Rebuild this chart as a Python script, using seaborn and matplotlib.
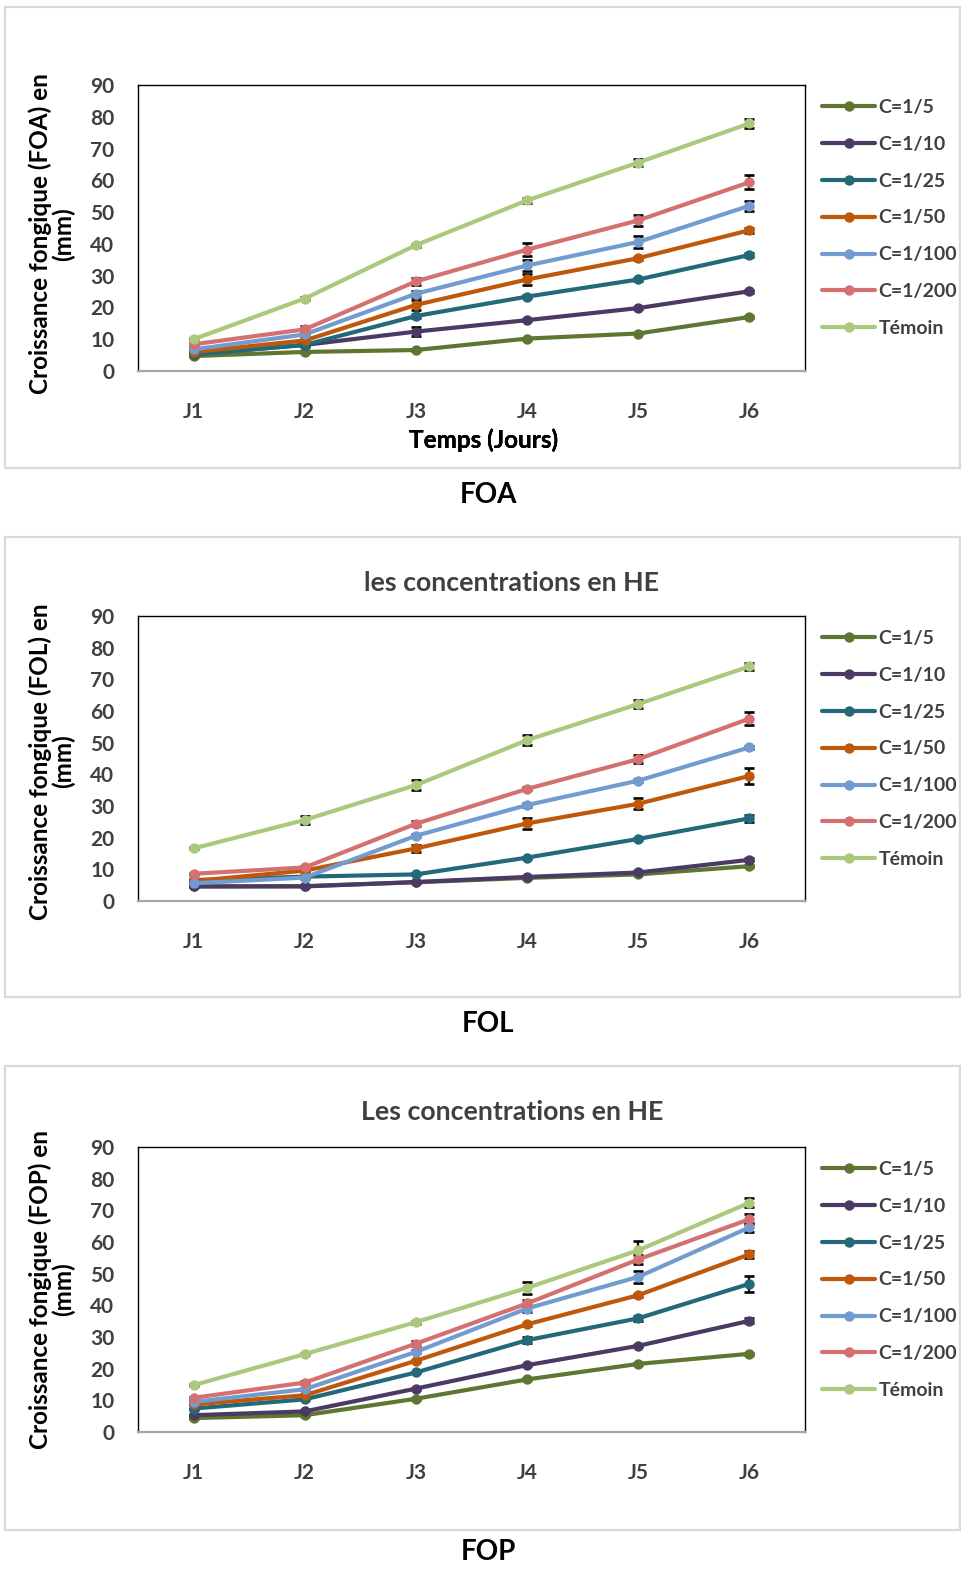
import matplotlib
matplotlib.use("Agg")
import matplotlib.pyplot as plt
from matplotlib.patches import Rectangle
import seaborn as sns
import pandas as pd

sns.set_style("white")
plt.rcParams['font.family'] = ['Lato', 'DejaVu Sans']
plt.rcParams['font.weight'] = 'bold'
plt.rcParams['axes.labelweight'] = 'bold'

# ---------------- data ----------------
days = ["J1", "J2", "J3", "J4", "J5", "J6"]
concs = ["C=1/5", "C=1/10", "C=1/25", "C=1/50", "C=1/100", "C=1/200", "Témoin"]
colors = ["#5f7632", "#4b3a63", "#23697a", "#c0580c", "#729bd0", "#d57070", "#aac97c"]

# FOA
foa_c5 = [4.7, 6.0, 6.6, 10.2, 11.8, 17.0]
foa_c10 = [5.3, 8.2, 12.4, 16.0, 19.8, 25.1]
foa_c25 = [5.2, 8.2, 17.3, 23.4, 28.8, 36.5]
foa_c50 = [6.0, 9.6, 20.8, 28.8, 35.5, 44.3]
foa_c100 = [6.8, 11.5, 24.3, 33.2, 40.6, 52.0]
foa_c200 = [8.4, 13.1, 28.2, 38.2, 47.4, 59.4]
foa_tem = [10.0, 22.8, 39.6, 53.7, 65.6, 77.9]
foa_err_c5 = [0.3, 0.3, 0.3, 0.3, 0.3, 0.3]
foa_err_c10 = [0.3, 0.3, 1.5, 0.3, 0.3, 0.5]
foa_err_c25 = [0.3, 0.5, 0.5, 0.5, 0.5, 0.5]
foa_err_c50 = [0.3, 0.5, 1.5, 1.6, 0.5, 0.8]
foa_err_c100 = [0.3, 0.5, 1.0, 1.8, 2.0, 1.5]
foa_err_c200 = [0.5, 1.0, 1.2, 2.0, 1.8, 2.2]
foa_err_tem = [0.3, 0.5, 0.5, 0.8, 1.0, 1.5]

# FOL
fol_c5 = [4.6, 4.7, 5.9, 7.3, 8.4, 11.0]
fol_c10 = [4.6, 4.6, 6.0, 7.6, 9.0, 13.0]
fol_c25 = [6.6, 7.7, 8.4, 13.7, 19.6, 26.1]
fol_c50 = [6.3, 9.6, 16.6, 24.5, 30.7, 39.5]
fol_c100 = [5.6, 7.4, 20.6, 30.3, 38.0, 48.5]
fol_c200 = [8.6, 10.6, 24.4, 35.4, 44.8, 57.6]
fol_tem = [16.6, 25.6, 36.6, 50.8, 62.2, 74.1]
fol_err_c5 = [0.3, 0.3, 0.3, 0.3, 0.3, 0.3]
fol_err_c10 = [0.3, 0.3, 0.3, 0.3, 0.5, 0.5]
fol_err_c25 = [0.3, 0.3, 0.3, 0.3, 0.3, 1.0]
fol_err_c50 = [0.3, 0.3, 1.0, 1.8, 1.8, 2.5]
fol_err_c100 = [0.3, 0.3, 0.5, 0.5, 0.5, 0.5]
fol_err_c200 = [0.3, 0.5, 0.8, 0.5, 1.3, 2.0]
fol_err_tem = [0.3, 1.3, 1.5, 1.5, 1.2, 1.0]

# FOP
fop_c5 = [4.4, 5.3, 10.5, 16.6, 21.5, 24.7]
fop_c10 = [5.3, 6.5, 13.7, 21.1, 27.2, 35.1]
fop_c25 = [7.4, 10.3, 18.8, 29.0, 35.9, 46.8]
fop_c50 = [8.7, 11.6, 22.5, 34.0, 43.2, 56.1]
fop_c100 = [9.5, 13.5, 25.3, 39.0, 49.0, 64.6]
fop_c200 = [10.8, 15.6, 27.9, 40.6, 54.5, 67.2]
fop_tem = [14.8, 24.6, 34.7, 45.5, 57.4, 72.4]
fop_err_c5 = [0.3, 0.3, 0.3, 0.3, 0.3, 0.3]
fop_err_c10 = [0.3, 0.3, 0.3, 0.3, 0.3, 0.8]
fop_err_c25 = [0.3, 0.3, 0.3, 1.0, 0.8, 2.5]
fop_err_c50 = [0.3, 0.3, 0.3, 0.5, 0.5, 1.0]
fop_err_c100 = [0.3, 0.3, 0.5, 1.0, 2.0, 1.5]
fop_err_c200 = [0.3, 0.5, 0.8, 1.0, 1.5, 1.5]
fop_err_tem = [0.3, 0.3, 0.5, 2.0, 3.0, 1.5]

yticks = [0, 10, 20, 30, 40, 50, 60, 70, 80, 90]

panels = [
    dict(name="FOA", title=None,
         vals=[foa_c5, foa_c10, foa_c25, foa_c50, foa_c100, foa_c200, foa_tem],
         errs=[foa_err_c5, foa_err_c10, foa_err_c25, foa_err_c50, foa_err_c100, foa_err_c200, foa_err_tem],
         ylabel="Croissance fongique (FOA) en\n(mm)"),
    dict(name="FOL", title="les concentrations en HE",
         vals=[fol_c5, fol_c10, fol_c25, fol_c50, fol_c100, fol_c200, fol_tem],
         errs=[fol_err_c5, fol_err_c10, fol_err_c25, fol_err_c50, fol_err_c100, fol_err_c200, fol_err_tem],
         ylabel="Croissance fongique (FOL) en\n(mm)"),
    dict(name="FOP", title="Les concentrations en HE",
         vals=[fop_c5, fop_c10, fop_c25, fop_c50, fop_c100, fop_c200, fop_tem],
         errs=[fop_err_c5, fop_err_c10, fop_err_c25, fop_err_c50, fop_err_c100, fop_err_c200, fop_err_tem],
         ylabel="Croissance fongique (FOP) en\n(mm)"),
]

# ---------------- layout (pixels) ----------------
W, H = 962, 1573
fig = plt.figure(figsize=(W / 100, H / 100), dpi=100)

def fx(x):
    return x / W

def fy(y):
    return 1 - y / H

axes_px = [(138, 85, 805, 371), (138, 616, 805, 901), (138, 1147, 805, 1432)]
boxes_px = [(5, 7, 960, 468), (5, 537, 960, 997), (5, 1066, 960, 1530)]
name_y = [495, 1024, 1552]
title_y = [None, 583, 1112]
ylab_yc = [0.48, 0.49, 0.50]

tick_col = "#404040"

for i, p in enumerate(panels):
    bx0, by0, bx1, by1 = boxes_px[i]
    fig.patches.append(Rectangle((fx(bx0), fy(by1)), fx(bx1 - bx0), (by1 - by0) / H,
                                 transform=fig.transFigure, fill=False,
                                 edgecolor="#d9d9d9", linewidth=1.6, zorder=0))
    x0, y0, x1, y1 = axes_px[i]
    ax = fig.add_axes([fx(x0), fy(y1), fx(x1 - x0), (y1 - y0) / H])

    rows = []
    for c, v in zip(concs, p["vals"]):
        for d, val in zip(days, v):
            rows.append({"Jour": d, "Concentration": c, "Valeur": val})
    df = pd.DataFrame(rows)

    sns.lineplot(data=df, x="Jour", y="Valeur", hue="Concentration",
                 hue_order=concs, palette=colors, marker="o", markersize=7.5,
                 markeredgewidth=0, linewidth=3.0, sort=False, errorbar=None,
                 ax=ax, legend=True, zorder=3)

    for c, v, e in zip(concs, p["vals"], p["errs"]):
        ax.errorbar(days, v, yerr=e, fmt="none", ecolor="black",
                    elinewidth=1.6, capsize=3.5, capthick=1.9, zorder=2)

    ax.set_xlim(-0.5, 5.5)
    ax.set_ylim(0, 90)
    ax.set_yticks(yticks)
    ax.set_yticklabels([str(t) for t in yticks])
    ax.tick_params(axis="both", length=0, labelsize=15, colors=tick_col)
    ax.tick_params(axis="x", pad=22)
    ax.tick_params(axis="y", pad=17)

    for s in ["left", "top", "right"]:
        ax.spines[s].set_color("black")
        ax.spines[s].set_linewidth(1.0)
    ax.spines["bottom"].set_color("#a6a6a6")
    ax.spines["bottom"].set_linewidth(1.6)

    ax.set_xlabel("Temps (Jours)", fontsize=17.5, fontweight="bold", color="black")
    ax.xaxis.set_label_coords((484 - x0) / (x1 - x0), (y1 - 440) / (y1 - y0))
    ax.xaxis.label.set_va("center")
    ax.set_ylabel(p["ylabel"], fontsize=17.5, fontweight="bold", color="black",
                  linespacing=1.0)
    ax.yaxis.set_label_coords((52 - x0) / (x1 - x0), ylab_yc[i])
    ax.yaxis.label.set_va("center")

    handles, labels = ax.get_legend_handles_labels()
    ax.legend(handles, labels, loc="upper left",
              bbox_to_anchor=((822 - x0) / (x1 - x0), (y1 - (y0 + 14)) / (y1 - y0)),
              frameon=False, prop={"weight": "bold", "size": 14},
              handlelength=2.75, handletextpad=0.15, labelspacing=1.02,
              borderpad=0, borderaxespad=0, labelcolor=tick_col)

    if p["title"]:
        fig.text(fx(512), fy(title_y[i]), p["title"], ha="center", va="center",
                 fontsize=19.3, fontweight="bold", color=tick_col)
    fig.text(fx(488), fy(name_y[i]), p["name"], ha="center", va="center",
             fontsize=20, fontweight="bold", color="black")

fig.savefig("out.png", dpi=100)
